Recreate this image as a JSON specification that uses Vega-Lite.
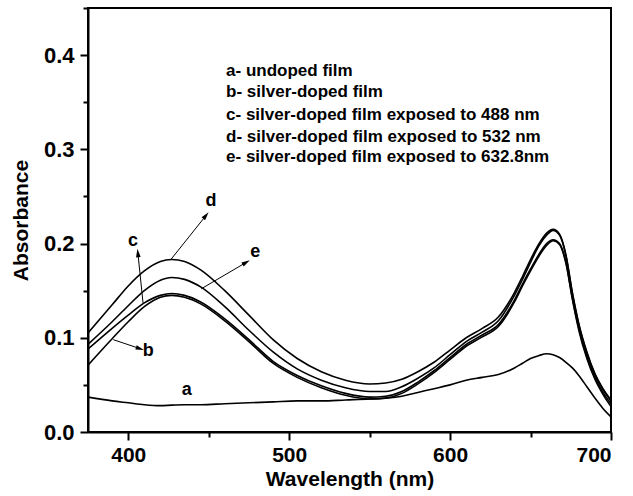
{
  "$schema": "https://vega.github.io/schema/vega-lite/v6.json",
  "width": 523,
  "height": 424,
  "autosize": {"type": "none"},
  "padding": {"left": 88, "top": 8, "right": 22, "bottom": 64},
  "background": "white",
  "config": {
    "view": {"stroke": "black", "strokeWidth": 2},
    "font": "Liberation Sans"
  },
  "datasets": {
    "curves": [
      {"s":"a","wl":375,"abs":0.037},{"s":"a","wl":390,"abs":0.033},{"s":"a","wl":400,"abs":0.031},{"s":"a","wl":410,"abs":0.029},{"s":"a","wl":420,"abs":0.028},{"s":"a","wl":427,"abs":0.0285},{"s":"a","wl":435,"abs":0.029},{"s":"a","wl":445,"abs":0.029},{"s":"a","wl":460,"abs":0.030},{"s":"a","wl":475,"abs":0.031},{"s":"a","wl":490,"abs":0.032},{"s":"a","wl":505,"abs":0.033},{"s":"a","wl":520,"abs":0.033},{"s":"a","wl":535,"abs":0.034},{"s":"a","wl":550,"abs":0.035},{"s":"a","wl":560,"abs":0.036},{"s":"a","wl":570,"abs":0.038},{"s":"a","wl":580,"abs":0.042},{"s":"a","wl":590,"abs":0.046},{"s":"a","wl":600,"abs":0.050},{"s":"a","wl":610,"abs":0.055},{"s":"a","wl":620,"abs":0.058},{"s":"a","wl":630,"abs":0.061},{"s":"a","wl":640,"abs":0.068},{"s":"a","wl":645,"abs":0.073},{"s":"a","wl":650,"abs":0.078},{"s":"a","wl":655,"abs":0.081},{"s":"a","wl":660,"abs":0.083},{"s":"a","wl":664,"abs":0.082},{"s":"a","wl":668,"abs":0.079},{"s":"a","wl":672,"abs":0.074},{"s":"a","wl":676,"abs":0.068},{"s":"a","wl":680,"abs":0.060},{"s":"a","wl":685,"abs":0.048},{"s":"a","wl":690,"abs":0.036},{"s":"a","wl":695,"abs":0.025},{"s":"a","wl":700,"abs":0.016},

      {"s":"b","wl":375,"abs":0.071},{"s":"b","wl":390,"abs":0.099},{"s":"b","wl":400,"abs":0.117},{"s":"b","wl":410,"abs":0.133},{"s":"b","wl":420,"abs":0.143},{"s":"b","wl":427,"abs":0.145},{"s":"b","wl":435,"abs":0.143},{"s":"b","wl":445,"abs":0.136},{"s":"b","wl":460,"abs":0.118},{"s":"b","wl":475,"abs":0.096},{"s":"b","wl":490,"abs":0.073},{"s":"b","wl":505,"abs":0.058},{"s":"b","wl":520,"abs":0.047},{"s":"b","wl":535,"abs":0.039},{"s":"b","wl":550,"abs":0.035},{"s":"b","wl":560,"abs":0.036},{"s":"b","wl":570,"abs":0.041},{"s":"b","wl":580,"abs":0.051},{"s":"b","wl":590,"abs":0.063},{"s":"b","wl":600,"abs":0.077},{"s":"b","wl":610,"abs":0.091},{"s":"b","wl":620,"abs":0.101},{"s":"b","wl":630,"abs":0.112},{"s":"b","wl":640,"abs":0.138},{"s":"b","wl":645,"abs":0.155},{"s":"b","wl":650,"abs":0.171},{"s":"b","wl":655,"abs":0.186},{"s":"b","wl":660,"abs":0.198},{"s":"b","wl":664,"abs":0.203},{"s":"b","wl":668,"abs":0.199},{"s":"b","wl":672,"abs":0.179},{"s":"b","wl":676,"abs":0.141},{"s":"b","wl":680,"abs":0.108},{"s":"b","wl":685,"abs":0.078},{"s":"b","wl":690,"abs":0.056},{"s":"b","wl":695,"abs":0.040},{"s":"b","wl":700,"abs":0.027},

      {"s":"c","wl":375,"abs":0.088},{"s":"c","wl":390,"abs":0.110},{"s":"c","wl":400,"abs":0.124},{"s":"c","wl":410,"abs":0.137},{"s":"c","wl":420,"abs":0.145},{"s":"c","wl":427,"abs":0.147},{"s":"c","wl":435,"abs":0.145},{"s":"c","wl":445,"abs":0.138},{"s":"c","wl":460,"abs":0.120},{"s":"c","wl":475,"abs":0.098},{"s":"c","wl":490,"abs":0.075},{"s":"c","wl":505,"abs":0.060},{"s":"c","wl":520,"abs":0.049},{"s":"c","wl":535,"abs":0.041},{"s":"c","wl":550,"abs":0.037},{"s":"c","wl":560,"abs":0.038},{"s":"c","wl":570,"abs":0.043},{"s":"c","wl":580,"abs":0.053},{"s":"c","wl":590,"abs":0.065},{"s":"c","wl":600,"abs":0.079},{"s":"c","wl":610,"abs":0.093},{"s":"c","wl":620,"abs":0.103},{"s":"c","wl":630,"abs":0.114},{"s":"c","wl":640,"abs":0.140},{"s":"c","wl":645,"abs":0.157},{"s":"c","wl":650,"abs":0.173},{"s":"c","wl":655,"abs":0.188},{"s":"c","wl":660,"abs":0.200},{"s":"c","wl":664,"abs":0.204},{"s":"c","wl":668,"abs":0.200},{"s":"c","wl":672,"abs":0.180},{"s":"c","wl":676,"abs":0.142},{"s":"c","wl":680,"abs":0.110},{"s":"c","wl":685,"abs":0.080},{"s":"c","wl":690,"abs":0.058},{"s":"c","wl":695,"abs":0.042},{"s":"c","wl":700,"abs":0.030},

      {"s":"d","wl":375,"abs":0.105},{"s":"d","wl":390,"abs":0.135},{"s":"d","wl":400,"abs":0.155},{"s":"d","wl":410,"abs":0.171},{"s":"d","wl":420,"abs":0.181},{"s":"d","wl":427,"abs":0.183},{"s":"d","wl":435,"abs":0.181},{"s":"d","wl":445,"abs":0.172},{"s":"d","wl":460,"abs":0.150},{"s":"d","wl":475,"abs":0.124},{"s":"d","wl":490,"abs":0.098},{"s":"d","wl":505,"abs":0.078},{"s":"d","wl":520,"abs":0.064},{"s":"d","wl":535,"abs":0.055},{"s":"d","wl":550,"abs":0.051},{"s":"d","wl":560,"abs":0.052},{"s":"d","wl":570,"abs":0.056},{"s":"d","wl":580,"abs":0.064},{"s":"d","wl":590,"abs":0.074},{"s":"d","wl":600,"abs":0.087},{"s":"d","wl":610,"abs":0.100},{"s":"d","wl":620,"abs":0.110},{"s":"d","wl":630,"abs":0.122},{"s":"d","wl":640,"abs":0.148},{"s":"d","wl":645,"abs":0.165},{"s":"d","wl":650,"abs":0.183},{"s":"d","wl":655,"abs":0.199},{"s":"d","wl":660,"abs":0.211},{"s":"d","wl":664,"abs":0.215},{"s":"d","wl":668,"abs":0.210},{"s":"d","wl":672,"abs":0.188},{"s":"d","wl":676,"abs":0.148},{"s":"d","wl":680,"abs":0.115},{"s":"d","wl":685,"abs":0.085},{"s":"d","wl":690,"abs":0.062},{"s":"d","wl":695,"abs":0.046},{"s":"d","wl":700,"abs":0.034},

      {"s":"e","wl":375,"abs":0.093},{"s":"e","wl":390,"abs":0.117},{"s":"e","wl":400,"abs":0.134},{"s":"e","wl":410,"abs":0.150},{"s":"e","wl":420,"abs":0.161},{"s":"e","wl":427,"abs":0.164},{"s":"e","wl":435,"abs":0.162},{"s":"e","wl":445,"abs":0.154},{"s":"e","wl":460,"abs":0.133},{"s":"e","wl":475,"abs":0.108},{"s":"e","wl":490,"abs":0.085},{"s":"e","wl":505,"abs":0.067},{"s":"e","wl":520,"abs":0.055},{"s":"e","wl":535,"abs":0.047},{"s":"e","wl":550,"abs":0.043},{"s":"e","wl":560,"abs":0.043},{"s":"e","wl":570,"abs":0.048},{"s":"e","wl":580,"abs":0.057},{"s":"e","wl":590,"abs":0.068},{"s":"e","wl":600,"abs":0.082},{"s":"e","wl":610,"abs":0.096},{"s":"e","wl":620,"abs":0.106},{"s":"e","wl":630,"abs":0.118},{"s":"e","wl":640,"abs":0.145},{"s":"e","wl":645,"abs":0.162},{"s":"e","wl":650,"abs":0.180},{"s":"e","wl":655,"abs":0.197},{"s":"e","wl":660,"abs":0.209},{"s":"e","wl":664,"abs":0.214},{"s":"e","wl":668,"abs":0.209},{"s":"e","wl":672,"abs":0.187},{"s":"e","wl":676,"abs":0.147},{"s":"e","wl":680,"abs":0.114},{"s":"e","wl":685,"abs":0.084},{"s":"e","wl":690,"abs":0.061},{"s":"e","wl":695,"abs":0.045},{"s":"e","wl":700,"abs":0.033}
    ],
    "arrows": [
      {"name":"b","wl":390.7,"abs":0.098,"wl2":407.3,"abs2":0.0885},
      {"name":"c","wl":409.2,"abs":0.137,"wl2":406.0,"abs2":0.190},
      {"name":"d","wl":426.7,"abs":0.1835,"wl2":448.3,"abs2":0.2297},
      {"name":"e","wl":445.4,"abs":0.152,"wl2":473.3,"abs2":0.180}
    ],
    "letters": [
      {"t":"a","wl":436.3,"abs":0.045},
      {"t":"b","wl":412.5,"abs":0.0857},
      {"t":"c","wl":403.0,"abs":0.203},
      {"t":"d","wl":451.5,"abs":0.245},
      {"t":"e","wl":479.0,"abs":0.191}
    ],
    "legend": [
      {"t":"a- undoped film","wl":460.8,"abs":0.383},
      {"t":"b- silver-doped film","wl":460.8,"abs":0.361},
      {"t":"c- silver-doped film exposed to 488 nm","wl":460.8,"abs":0.3364},
      {"t":"d- silver-doped film exposed to 532 nm","wl":460.8,"abs":0.3134},
      {"t":"e- silver-doped film exposed to 632.8nm","wl":460.8,"abs":0.2922}
    ]
  },
  "encoding": {
    "x": {
      "field": "wl", "type": "quantitative",
      "scale": {"domain": [375, 700], "nice": false, "zero": false},
      "axis": {
        "title": "Wavelength (nm)",
        "values": [400, 450, 500, 550, 600, 650, 700],
        "labelExpr": "datum.value % 100 === 0 ? datum.label : ''",
        "tickSize": {"condition": {"test": "datum.value % 100 === 0", "value": 8}, "value": 5},
        "grid": false,
        "domainColor": "black", "domainWidth": 2,
        "tickColor": "black", "tickWidth": 2,
        "labelFont": "Liberation Sans", "labelFontSize": 21, "labelFontWeight": "bold", "labelColor": "black",
        "labelPadding": 4,
        "titleFont": "Liberation Sans", "titleFontSize": 21, "titleFontWeight": "bold", "titleColor": "black",
        "titlePadding": 3
      }
    },
    "y": {
      "field": "abs", "type": "quantitative",
      "scale": {"domain": [0, 0.45], "nice": false},
      "axis": {
        "title": "Absorbance",
        "values": [0, 0.05, 0.1, 0.15, 0.2, 0.25, 0.3, 0.35, 0.4, 0.45],
        "format": ".1f",
        "labelExpr": "round(datum.value * 100) % 10 === 0 ? datum.label : ''",
        "tickSize": {"condition": {"test": "round(datum.value * 100) % 10 === 0", "value": 8}, "value": 5},
        "grid": false,
        "domainColor": "black", "domainWidth": 2,
        "tickColor": "black", "tickWidth": 2,
        "labelFont": "Liberation Sans", "labelFontSize": 22, "labelFontWeight": "bold", "labelColor": "black",
        "labelPadding": 6,
        "titleFont": "Liberation Sans", "titleFontSize": 21, "titleFontWeight": "bold", "titleColor": "black",
        "titlePadding": 12
      }
    }
  },
  "layer": [
    {
      "data": {"name": "curves"},
      "mark": {"type": "line", "interpolate": "monotone", "color": "black", "strokeWidth": 1.6, "clip": true},
      "encoding": {"detail": {"field": "s", "type": "nominal"}}
    },
    {
      "data": {"name": "arrows"},
      "mark": {"type": "rule", "color": "black", "strokeWidth": 1},
      "encoding": {"x2": {"field": "wl2"}, "y2": {"field": "abs2"}}
    },
    {
      "data": {"name": "arrows"},
      "transform": [{"filter": "datum.name === 'b'"}],
      "mark": {"type": "point", "shape": "M0,-1L0.55,1L-0.55,1Z", "filled": true, "color": "black", "opacity": 1, "size": 70, "angle": 108},
      "encoding": {"x": {"field": "wl2", "type": "quantitative"}, "y": {"field": "abs2", "type": "quantitative"}}
    },
    {
      "data": {"name": "arrows"},
      "transform": [{"filter": "datum.name === 'c'"}],
      "mark": {"type": "point", "shape": "M0,-1L0.55,1L-0.55,1Z", "filled": true, "color": "black", "opacity": 1, "size": 70, "angle": 354},
      "encoding": {"x": {"field": "wl2", "type": "quantitative"}, "y": {"field": "abs2", "type": "quantitative"}}
    },
    {
      "data": {"name": "arrows"},
      "transform": [{"filter": "datum.name === 'd'"}],
      "mark": {"type": "point", "shape": "M0,-1L0.55,1L-0.55,1Z", "filled": true, "color": "black", "opacity": 1, "size": 70, "angle": 39},
      "encoding": {"x": {"field": "wl2", "type": "quantitative"}, "y": {"field": "abs2", "type": "quantitative"}}
    },
    {
      "data": {"name": "arrows"},
      "transform": [{"filter": "datum.name === 'e'"}],
      "mark": {"type": "point", "shape": "M0,-1L0.55,1L-0.55,1Z", "filled": true, "color": "black", "opacity": 1, "size": 70, "angle": 60},
      "encoding": {"x": {"field": "wl2", "type": "quantitative"}, "y": {"field": "abs2", "type": "quantitative"}}
    },
    {
      "data": {"name": "letters"},
      "mark": {"type": "text", "font": "Liberation Sans", "fontSize": 18, "fontWeight": "bold", "color": "black", "align": "center", "baseline": "middle"},
      "encoding": {"text": {"field": "t"}}
    },
    {
      "data": {"name": "legend"},
      "mark": {"type": "text", "font": "Liberation Sans", "fontSize": 17, "fontWeight": "bold", "color": "black", "align": "left", "baseline": "middle"},
      "encoding": {"text": {"field": "t"}}
    }
  ]
}
